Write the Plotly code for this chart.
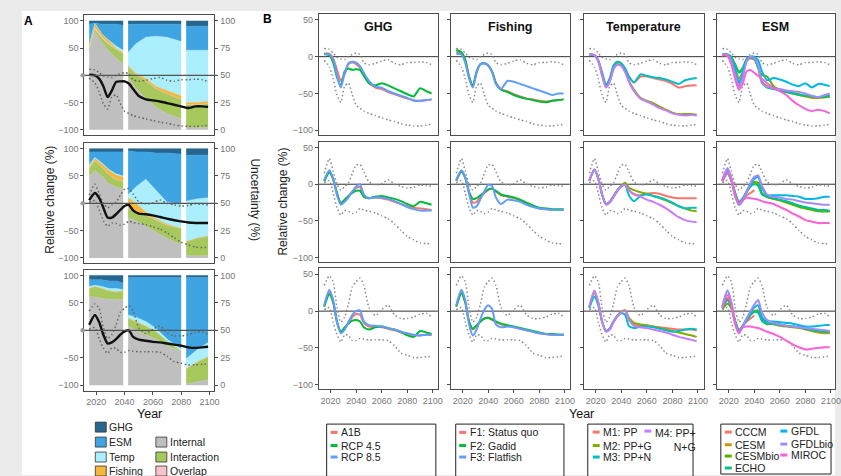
import plotly.graph_objects as go

# ---------------- data ----------------
YEARS = [2015, 2019, 2022, 2025, 2028, 2031, 2034, 2037, 2040, 2043, 2046, 2050,
         2055, 2060, 2065, 2070, 2075, 2080, 2085, 2090, 2095, 2099]

# Row 1
R1_UPPER = [11, 10, 5, -1, -3, -4, 0, 3, 5, 3, -8, -11, -9, -6, -4, -9, -11, -8, -8, -7, -8, -11]
R1_LOWER = [-5, -14, -30, -52, -62, -40, -36, -52, -66, -70, -74, -77, -80, -83, -86, -88, -91, -93, -94, -94, -93, -92]
R1_MEAN = [1, 0, -6, -20, -40, -28, -12, -11, -11, -15, -25, -38, -44, -46, -48, -51, -54, -57, -60, -57, -57, -58]
R1_A1B = [4, 4, -2, -18, -33, -24, -10, -8, -10, -15, -25, -36, -42, -44, -48, -51, -54, -57, -59, -60, -59, -58]
R1_RCP45 = [4, 2, -8, -28, -40, -20, -16, -18, -17, -18, -26, -36, -39, -36, -39, -43, -47, -51, -54, -43, -47, -50]
R1_RCP85 = [3, 3, -4, -25, -42, -22, -9, -7, -8, -13, -22, -33, -41, -42, -47, -50, -53, -56, -60, -60, -59, -58]
R1_F1 = [6, 5, -4, -27, -40, -20, -10, -9, -12, -20, -35, -44, -47, -51, -54, -57, -58, -60, -61, -60, -59, -58]
R1_F2 = [9, 6, -4, -27, -40, -20, -10, -9, -12, -20, -36, -45, -48, -52, -55, -57, -59, -61, -62, -60, -59, -58]
R1_F3 = [4, 3, -8, -30, -42, -21, -10, -9, -12, -21, -37, -44, -33, -34, -37, -40, -43, -46, -49, -52, -50, -50]
R1_M1 = [3, 2, -5, -22, -38, -30, -12, -7, -9, -16, -27, -35, -27, -27, -29, -31, -33, -37, -42, -40, -39, -39]
R1_M2 = [3, 2, -6, -25, -40, -33, -16, -10, -12, -20, -33, -45, -56, -60, -63, -68, -72, -76, -78, -78, -78, -79]
R1_M3 = [3, 2, -5, -22, -38, -30, -12, -7, -9, -16, -27, -35, -24, -26, -28, -29, -31, -34, -37, -32, -30, -29]
R1_M4 = [3, 2, -6, -26, -42, -34, -17, -11, -13, -21, -34, -47, -57, -61, -65, -70, -73, -77, -79, -80, -79, -80]
R1_CCCM = [2, 2, -4, -20, -38, -25, -6, -2, -4, None, None, None, None, None, None, None, None, None, None, None, None, None]
R1_CESM = [2, 2, -3, -16, -30, -20, -5, -2, -4, -14, -34, -40, -43, -46, -48, -50, -52, -54, -56, -56, -55, -54]
R1_CESMBIO = [3, 3, 0, -10, -20, -15, -3, 0, -2, -15, -25, -27, -40, -45, -47, -49, -51, -53, -54, -55, -55, -54]
R1_ECHO = [3, 3, -1, -12, -22, -16, -4, -1, -3, -15, -35, -42, -44, -46, -48, -50, -52, -53, -54, -55, -54, -53]
R1_GFDL = [3, 2, -3, -18, -35, -22, -4, 0, 0, -5, -20, -32, -29, -31, -34, -38, -40, -36, -42, -37, -38, -40]
R1_GFDLBIO = [3, 2, -6, -25, -42, -28, -6, 0, -2, -12, -36, -41, -43, -44, -46, -47, -48, -50, -53, -55, -52, -50]
R1_MIROC = [3, 1, -10, -30, -45, -36, -20, -18, -22, -26, -30, -36, -42, -47, -52, -60, -66, -71, -74, -72, -74, -77]

# Row 2
R2_UPPER = [15, 35, 18, 0, -8, -3, 2, 15, 26, 27, 17, 3, -1, 1, 6, 0, -3, -5, -4, -1, -2, -3]
R2_LOWER = [2, 5, -12, -32, -42, -36, -37, -40, -38, -33, -35, -37, -39, -43, -47, -54, -63, -71, -76, -80, -81, -81]
R2_MEAN = [6, 19, 10, -8, -26, -26, -20, -12, -5, -3, -13, -19, -20, -22, -25, -28, -31, -33, -35, -36, -36, -36]
R2_A1B = [5, 17, 7, -13, -26, -22, -16, -10, -5, -4, -17, -19, -18, -19, -21, -24, -27, -30, -32, -33, -34, -35]
R2_RCP45 = [4, 16, 7, -12, -26, -21, -16, -12, -9, -9, -17, -19, -17, -16, -18, -20, -23, -27, -30, -24, -26, -28]
R2_RCP85 = [6, 19, 8, -15, -28, -24, -18, -10, -3, 0, -14, -19, -18, -18, -20, -23, -27, -31, -34, -36, -36, -36]
R2_F1 = [5, 18, 9, -12, -25, -24, -17, -12, -8, -6, -10, -15, -17, -19, -22, -26, -30, -33, -34, -35, -35, -35]
R2_F2 = [5, 17, 9, -10, -20, -19, -15, -11, -7, -6, -9, -14, -16, -18, -21, -25, -29, -32, -33, -34, -34, -34]
R2_F3 = [6, 19, 10, -12, -32, -30, -20, -10, -1, -2, -18, -27, -21, -22, -24, -28, -31, -33, -34, -35, -35, -35]
R2_M1 = [5, 20, 8, -14, -27, -24, -16, -8, -2, 1, -8, -14, -15, -13, -12, -13, -16, -18, -19, -19, -19, -19]
R2_M2 = [5, 20, 8, -14, -27, -24, -16, -8, -2, 2, -5, -8, -11, -13, -16, -19, -22, -26, -30, -33, -36, -37]
R2_M3 = [5, 19, 8, -14, -27, -25, -17, -9, -3, -1, -15, -23, -16, -14, -16, -18, -21, -25, -30, -33, -32, -32]
R2_M4 = [5, 20, 8, -14, -28, -25, -17, -9, -3, -1, -8, -13, -17, -21, -24, -28, -33, -39, -45, -49, -51, -52]
R2_CCCM = [5, 18, 6, -14, -26, -21, -15, -12, -8, None, None, None, None, None, None, None, None, None, None, None, None, None]
R2_CESM = [5, 17, 6, -13, -26, -21, -11, -3, 2, 1, -13, -18, -20, -22, -24, -27, -30, -32, -34, -36, -37, -37]
R2_CESMBIO = [5, 16, 6, -12, -25, -20, -10, -2, 3, 2, -12, -17, -20, -22, -25, -28, -31, -33, -35, -37, -37, -37]
R2_ECHO = [4, 15, 5, -12, -24, -19, -10, -3, 0, -2, -14, -17, -19, -21, -23, -26, -29, -31, -33, -35, -35, -36]
R2_GFDL = [6, 21, 8, -16, -28, -22, -10, 0, 7, 10, -5, -15, -15, -15, -15, -16, -17, -20, -20, -19, -17, -17]
R2_GFDLBIO = [6, 22, 8, -16, -28, -22, -10, 2, 10, 12, -2, -14, -17, -18, -20, -21, -23, -25, -26, -27, -28, -28]
R2_MIROC = [4, 17, 5, -15, -26, -22, -18, -19, -20, -21, -23, -25, -27, -31, -35, -40, -44, -49, -51, -53, -53, -53]

# Row 3
R3_UPPER = [35, 48, 40, 5, -15, -8, 10, 33, 40, 45, 35, 5, -6, 2, 8, -5, -10, -10, -8, -4, -3, -8]
R3_LOWER = [2, 5, -15, -32, -42, -32, -33, -40, -40, -37, -38, -39, -39, -39, -40, -47, -57, -60, -63, -63, -62, -61]
R3_MEAN = [10, 28, 15, -8, -24, -22, -16, -8, -2, 0, -12, -17, -19, -21, -22, -24, -26, -28, -31, -32, -31, -30]
R3_A1B = [7, 26, 13, -15, -29, -23, -15, -8, -4, -5, -16, -21, -21, -22, -24, -26, -29, -31, -33, -33, -32, -32]
R3_RCP45 = [6, 23, 12, -14, -28, -22, -17, -13, -12, -14, -22, -25, -22, -21, -23, -25, -28, -33, -35, -27, -29, -31]
R3_RCP85 = [8, 29, 15, -15, -30, -25, -15, -5, 0, 1, -14, -19, -20, -21, -23, -25, -28, -30, -32, -33, -32, -32]
R3_F1 = [7, 25, 12, -14, -25, -20, -14, -10, -9, -12, -15, -18, -20, -22, -24, -26, -28, -30, -31, -32, -32, -32]
R3_F2 = [6, 24, 12, -14, -24, -19, -14, -10, -9, -11, -14, -17, -19, -21, -23, -25, -27, -29, -31, -31, -32, -32]
R3_F3 = [8, 29, 15, -18, -33, -25, -10, 2, 8, 3, -18, -22, -21, -22, -24, -26, -28, -30, -31, -32, -32, -32]
R3_M1 = [6, 27, 12, -14, -27, -24, -14, -6, -1, 1, -10, -18, -19, -20, -21, -22, -23, -24, -25, -25, -25, -26]
R3_M2 = [5, 26, 11, -14, -27, -24, -14, -6, -1, 1, -9, -16, -18, -19, -21, -23, -25, -27, -29, -31, -33, -35]
R3_M3 = [4, 20, 8, -14, -27, -24, -14, -7, -3, -5, -20, -23, -21, -21, -22, -24, -26, -28, -27, -25, -24, -25]
R3_M4 = [6, 28, 12, -14, -28, -25, -15, -7, -2, 0, -12, -20, -22, -23, -25, -27, -29, -32, -35, -37, -39, -41]
R3_CCCM = [5, 15, 6, -14, -27, -20, -14, -10, -6, None, None, None, None, None, None, None, None, None, None, None, None, None]
R3_CESM = [4, 18, 7, -14, -27, -20, -12, -4, 0, 1, -12, -16, -18, -20, -21, -22, -23, -25, -27, -29, -30, -30]
R3_CESMBIO = [3, 10, 4, -13, -26, -20, -12, -5, -1, 0, -12, -18, -16, -18, -20, -21, -22, -23, -25, -27, -28, -28]
R3_ECHO = [4, 15, 6, -14, -27, -20, -13, -5, -1, -2, -13, -17, -17, -19, -20, -21, -22, -24, -26, -27, -28, -28]
R3_GFDL = [6, 28, 12, -15, -28, -20, -10, -2, 5, 8, -8, -14, -14, -15, -16, -17, -19, -21, -21, -20, -19, -19]
R3_GFDLBIO = [6, 28, 12, -16, -29, -21, -10, 0, 9, 15, -2, -12, -16, -18, -20, -21, -22, -23, -24, -25, -26, -27]
R3_MIROC = [4, 22, 8, -18, -30, -22, -21, -21, -22, -23, -25, -28, -31, -35, -40, -45, -49, -52, -51, -50, -49, -49]

# Panel A uncertainty partition (% of total), three blocks of years
SEG_YEARS = [2015, 2019, 2024, 2029, 2034, 2039, 2042.5, 2048, 2055, 2062, 2070, 2080, 2083.5, 2091, 2099]
A1_INTERNAL = [72, 90, 80, 72, 66, 60, 48, 38, 29, 21, 15, 10, 2, 2, 2]
A1_INTERACTION = [2, 2, 4, 6, 8, 10, 10, 13, 16, 17, 18, 18, 21, 21, 22]
A1_OVERLAP = [1, 2, 1, 1, 0, 0, 0, 0, 0, 0, 0, 0, 0, 0, 0]
A1_FISHING = [3, 4, 3, 2, 1, 1, 1, 1, 2, 2, 3, 3, 2, 2, 2]
A1_TEMP = [0, 0, 0, 1, 2, 2, 12, 27, 38, 46, 49, 50, 48, 48, 47]
A1_ESM = [19, 0, 9, 15, 20, 23, 26, 18, 12, 11, 12, 16, 22, 22, 22]
A1_GHG = [3, 2, 3, 3, 3, 4, 3, 3, 3, 3, 3, 3, 5, 5, 5]

A2_INTERNAL = [74, 80, 75, 68, 65, 63, 37, 34, 29, 24, 18, 12, 2, 2, 2]
A2_INTERACTION = [8, 9, 8, 8, 7, 7, 8, 9, 10, 11, 12, 15, 13, 16, 18]
A2_OVERLAP = [0, 0, 0, 0, 0, 0, 0, 0, 0, 0, 0, 0, 0, 0, 0]
A2_FISHING = [1, 2, 3, 4, 4, 4, 10, 7, 3, 1, 1, 0, 0, 0, 0]
A2_TEMP = [2, 1, 1, 1, 1, 1, 3, 15, 30, 26, 20, 22, 37, 36, 35]
A2_ESM = [12, 5, 10, 16, 20, 22, 40, 32, 25, 34, 45, 46, 42, 40, 39]
A2_GHG = [3, 3, 3, 3, 3, 3, 2, 3, 3, 4, 4, 5, 6, 6, 6]

A3_INTERNAL = [81, 80, 79, 78, 78, 78, 54, 50, 46, 42, 36, 30, 1, 3, 5]
A3_INTERACTION = [7, 10, 9, 8, 7, 8, 7, 8, 8, 7, 4, 1, 14, 18, 21]
A3_OVERLAP = [0, 0, 0, 0, 0, 0, 0, 0, 0, 0, 0, 0, 0, 0, 0]
A3_FISHING = [0, 0, 0, 0, 0, 0, 0, 0, 0, 0, 0, 0, 0, 0, 0]
A3_TEMP = [2, 1, 2, 2, 3, 1, 3, 4, 4, 3, 2, 2, 9, 11, 13]
A3_ESM = [6, 5, 6, 7, 7, 6, 34, 36, 40, 46, 56, 65, 74, 66, 59]
A3_GHG = [4, 4, 4, 5, 5, 7, 2, 2, 2, 2, 2, 2, 2, 2, 2]

COLUMN_TITLES = ["GHG", "Fishing", "Temperature", "ESM"]
GHG_NAMES = ["A1B", "RCP 4.5", "RCP 8.5"]
FISH_NAMES = ["F1: Status quo", "F2: Gadid", "F3: Flatfish"]
TEMP_NAMES = ["M1: PP", "M2: PP+G", "M3: PP+N", "M4: PP+<br>N+G"]
ESM_NAMES = ["CCCM", "CESM", "CESMbio", "ECHO", "GFDL", "GFDLbio", "MIROC"]
STACK_NAMES = ["Internal", "Interaction", "Overlap", "Fishing", "Temp", "ESM", "GHG"]
X_TICKS = [2020, 2040, 2060, 2080, 2100]

# ---------------- styling ----------------
C3 = ["#F8766D", "#00BA38", "#619CFF"]
C4 = ["#F8766D", "#7CAE00", "#00BFC4", "#C77CFF"]
C7 = ["#F8766D", "#C49A00", "#53B400", "#00C094", "#00B6EB", "#A58AFF", "#FB61D7"]
STACK_COLORS = {"Internal": "#bfbfbf", "Interaction": "#a6c85c", "Overlap": "#f7c4cd",
                "Fishing": "#f5b63c", "Temp": "#aaeffb", "ESM": "#3ea4e2", "GHG": "#27678f"}
FONT = "Liberation Sans, Arial, sans-serif"
AXC = "#4d4d4d"
TICKF = dict(family=FONT, size=9, color="#777777")
DOT = "1.5px,2.5px"
W, H = 841, 476


def fx(p):
    return p / W


def fy(p):
    return 1 - p / H


A_STACKS = [
    [A1_INTERNAL, A1_INTERACTION, A1_OVERLAP, A1_FISHING, A1_TEMP, A1_ESM, A1_GHG],
    [A2_INTERNAL, A2_INTERACTION, A2_OVERLAP, A2_FISHING, A2_TEMP, A2_ESM, A2_GHG],
    [A3_INTERNAL, A3_INTERACTION, A3_OVERLAP, A3_FISHING, A3_TEMP, A3_ESM, A3_GHG],
]
BOUNDS = [(R1_UPPER, R1_LOWER), (R2_UPPER, R2_LOWER), (R3_UPPER, R3_LOWER)]
MEANS = [R1_MEAN, R2_MEAN, R3_MEAN]
B_DATA = [
    [[R1_A1B, R1_RCP45, R1_RCP85], [R1_F1, R1_F2, R1_F3], [R1_M1, R1_M2, R1_M3, R1_M4],
     [R1_CCCM, R1_CESM, R1_CESMBIO, R1_ECHO, R1_GFDL, R1_GFDLBIO, R1_MIROC]],
    [[R2_A1B, R2_RCP45, R2_RCP85], [R2_F1, R2_F2, R2_F3], [R2_M1, R2_M2, R2_M3, R2_M4],
     [R2_CCCM, R2_CESM, R2_CESMBIO, R2_ECHO, R2_GFDL, R2_GFDLBIO, R2_MIROC]],
    [[R3_A1B, R3_RCP45, R3_RCP85], [R3_F1, R3_F2, R3_F3], [R3_M1, R3_M2, R3_M3, R3_M4],
     [R3_CCCM, R3_CESM, R3_CESMBIO, R3_ECHO, R3_GFDL, R3_GFDLBIO, R3_MIROC]],
]
COL_COLORS = [C3, C3, C4, C7]

A_ROWS = [(15.5, 135.5), (143.5, 264.0), (270.5, 391.5)]
B_ROWS = [(14.0, 135.0), (142.0, 262.5), (269.0, 390.0)]
B_COLS = [(321, 441), (454, 574), (588, 709), (722, 841)]
SEGS = [slice(0, 6), slice(6, 12), slice(12, 15)]

fig = go.Figure()
layout = {}
shapes = []
annotations = []

# white page on grey surround
shapes.append(dict(type="rect", xref="paper", yref="paper", x0=fx(22), x1=1, y0=0, y1=fy(11),
                   fillcolor="white", line=dict(width=0), layer="below"))

# ---------------- Panel A ----------------
for r in range(3):
    xi, yb, yo = r + 1, r + 1, r + 4
    top, bot = A_ROWS[r]
    for s, sl in enumerate(SEGS):
        for name, arr in zip(STACK_NAMES, A_STACKS[r]):
            fig.add_trace(go.Scatter(x=SEG_YEARS[sl], y=arr[sl], mode="lines",
                                     stackgroup=f"a{r}s{s}", fillcolor=STACK_COLORS[name],
                                     line=dict(width=0.5, color=STACK_COLORS[name]),
                                     xaxis=f"x{xi}", yaxis=f"y{yb}", showlegend=False,
                                     hoverinfo="skip"))
    up, lo = BOUNDS[r]
    for arr in (up, lo):
        fig.add_trace(go.Scatter(x=YEARS, y=arr, mode="lines",
                                 line=dict(color="#666666", width=1.5, dash=DOT, shape="spline", smoothing=0.6),
                                 xaxis=f"x{xi}", yaxis=f"y{yo}", showlegend=False, hoverinfo="skip"))
    fig.add_trace(go.Scatter(x=YEARS, y=MEANS[r], mode="lines",
                             line=dict(color="#111111", width=2.4, shape="spline", smoothing=0.6),
                             xaxis=f"x{xi}", yaxis=f"y{yo}", showlegend=False, hoverinfo="skip"))

    layout[f"xaxis{xi}"] = dict(domain=[fx(85), fx(216)], range=[2011.6, 2103.5], anchor=f"y{yb}",
                                showline=True, mirror=True, linecolor=AXC, linewidth=1,
                                showgrid=False, zeroline=False, tickvals=X_TICKS,
                                ticks="outside" if r == 2 else "", ticklen=3, tickcolor=AXC,
                                showticklabels=(r == 2), tickfont=TICKF)
    layout[f"yaxis{yb}"] = dict(domain=[fy(bot), fy(top)], range=[-5, 105], anchor=f"x{xi}",
                                side="right", showline=True, mirror=True, linecolor=AXC, linewidth=1,
                                showgrid=False, zeroline=False, tickvals=[0, 25, 50, 75, 100],
                                ticks="outside", ticklen=3, tickcolor=AXC, tickfont=TICKF)
    layout[f"yaxis{yo}"] = dict(overlaying=f"y{yb}", range=[-110, 110], anchor=f"x{xi}", side="left",
                                showline=False, showgrid=False, zeroline=False,
                                tickvals=[-100, -50, 50, 100], ticks="outside", ticklen=3,
                                tickcolor=AXC, tickfont=TICKF)
    shapes.append(dict(type="line", xref="paper", yref=f"y{yo}", x0=fx(82), x1=fx(218), y0=0, y1=0,
                       line=dict(color="#555555", width=1.2), layer="above"))
    shapes.append(dict(type="circle", xref="paper", yref=f"y{yo}", x0=fx(81), x1=fx(85.5), y0=-4, y1=4,
                       fillcolor="#9a9a9a", line=dict(width=0), layer="above"))

# ---------------- Panel B ----------------
for r in range(3):
    top, bot = B_ROWS[r]
    up, lo = BOUNDS[r]
    for c in range(4):
        i = r * 4 + c
        xi, yi = 4 + i, 7 + i
        left, right = B_COLS[c]
        for arr in (up, lo):
            fig.add_trace(go.Scatter(x=YEARS, y=arr, mode="lines",
                                     line=dict(color="#8a8a8a", width=1.5, dash=DOT, shape="spline", smoothing=0.6),
                                     xaxis=f"x{xi}", yaxis=f"y{yi}", showlegend=False, hoverinfo="skip"))
        for k, arr in enumerate(B_DATA[r][c]):
            fig.add_trace(go.Scatter(x=YEARS, y=arr, mode="lines",
                                     line=dict(color=COL_COLORS[c][k], width=2, shape="spline", smoothing=0.6),
                                     xaxis=f"x{xi}", yaxis=f"y{yi}", showlegend=False, hoverinfo="skip"))
        layout[f"xaxis{xi}"] = dict(domain=[fx(left), fx(right)],
                                    range=[2010.7, 2010.7 + (right - left) / 1.2875], anchor=f"y{yi}",
                                    showline=True, mirror=True, linecolor=AXC, linewidth=1,
                                    showgrid=False, zeroline=False, tickvals=X_TICKS,
                                    ticks="outside" if r == 2 else "", ticklen=3, tickcolor=AXC,
                                    showticklabels=(r == 2), tickfont=TICKF,
                                    ticklabeloverflow="allow")
        layout[f"yaxis{yi}"] = dict(domain=[fy(bot), fy(top)], range=[-106, 58], anchor=f"x{xi}",
                                    showline=True, mirror=True, linecolor=AXC, linewidth=1,
                                    showgrid=False, zeroline=False, tickvals=[-100, -50, 0, 50],
                                    ticks="outside", ticklen=3, tickcolor=AXC,
                                    showticklabels=(c == 0), tickfont=TICKF)
        shapes.append(dict(type="line", xref=f"x{xi} domain", yref=f"y{yi}", x0=0, x1=1, y0=0, y1=0,
                           line=dict(color="#333333", width=1), layer="below"))
        if r == 0:
            annotations.append(dict(x=fx((left + right) / 2), y=fy(27), xref="paper", yref="paper",
                                    text=f"<b>{COLUMN_TITLES[c]}</b>", showarrow=False,
                                    xanchor="center", yanchor="middle",
                                    font=dict(family=FONT, size=12.5, color="#111111")))


def txt(x, y, s, size=10.5, xanchor="left", color="#222222", angle=0, bold=False, align="left"):
    annotations.append(dict(x=fx(x), y=fy(y), xref="paper", yref="paper",
                            text=f"<b>{s}</b>" if bold else s, showarrow=False, xanchor=xanchor,
                            yanchor="middle", textangle=angle, align=align,
                            font=dict(family=FONT, size=size, color=color)))


txt(29, 21.5, "A", size=12, xanchor="center", color="#000000", bold=True)
txt(269.5, 19.5, "B", size=12, xanchor="center", color="#000000", bold=True)
txt(49.5, 200, "Relative change (%)", size=12, xanchor="center", angle=-90)
txt(257, 200, "Uncertainty (%)", size=12, xanchor="center", angle=90)
txt(285, 202, "Relative change (%)", size=12, xanchor="center", angle=-90)
txt(151, 414.5, "Year", size=12.5, xanchor="center", color="#111111")
txt(586, 415, "Year", size=12.5, xanchor="center", color="#111111")

# Panel A legend (squares)
A_LEG = [("GHG", 96, 428), ("ESM", 96, 443), ("Temp", 96, 458), ("Fishing", 96, 472),
         ("Internal", 157, 443), ("Interaction", 157, 458), ("Overlap", 157, 472)]
for name, x0, yc in A_LEG:
    shapes.append(dict(type="rect", xref="paper", yref="paper", x0=fx(x0), x1=fx(x0 + 11),
                       y0=fy(yc + 5), y1=fy(yc - 5), fillcolor=STACK_COLORS[name],
                       line=dict(color="#333333", width=0.8)))
    txt(x0 + 12, yc, name)

# Panel B legend boxes
for (x0, x1, y1) in [(329, 439, 482), (459, 568, 482), (592, 698, 482), (726, 837, 475)]:
    shapes.append(dict(type="rect", xref="paper", yref="paper", x0=fx(x0), x1=fx(x1), y0=fy(y1), y1=fy(425),
                       line=dict(color="#222222", width=1), fillcolor="rgba(0,0,0,0)"))


def leg_item(xl, yc, color, label, align="left"):
    shapes.append(dict(type="line", xref="paper", yref="paper", x0=fx(xl), x1=fx(xl + 7), y0=fy(yc), y1=fy(yc),
                       line=dict(color=color, width=3)))
    txt(xl + 8.5, yc, label, align=align)


for k, yc in enumerate([433.3, 446.5, 458]):
    leg_item(333, yc, C3[k], GHG_NAMES[k])
    leg_item(462.5, yc, C3[k], FISH_NAMES[k])
for k, yc in enumerate([433, 446.5, 458]):
    leg_item(597, yc, C4[k], TEMP_NAMES[k])
shapes.append(dict(type="line", xref="paper", yref="paper", x0=fx(649), x1=fx(656), y0=fy(432), y1=fy(432),
                   line=dict(color=C4[3], width=3)))
annotations.append(dict(x=fx(657.5), y=fy(425.5), xref="paper", yref="paper", text=TEMP_NAMES[3],
                        showarrow=False, xanchor="left", yanchor="top", align="right",
                        font=dict(family=FONT, size=10.5, color="#222222")))
for k, yc in enumerate([433, 445.7, 457, 469]):
    leg_item(730, yc, C7[k], ESM_NAMES[k])
for k, yc in enumerate([432, 445, 456]):
    leg_item(786, yc, C7[4 + k], ESM_NAMES[4 + k])

fig.update_layout(width=W, height=H, margin=dict(l=0, r=0, t=0, b=0), autosize=False,
                  paper_bgcolor="#ebebeb", plot_bgcolor="white", showlegend=False,
                  shapes=shapes, annotations=annotations, font=dict(family=FONT), **layout)

fig.write_html("out.html")
